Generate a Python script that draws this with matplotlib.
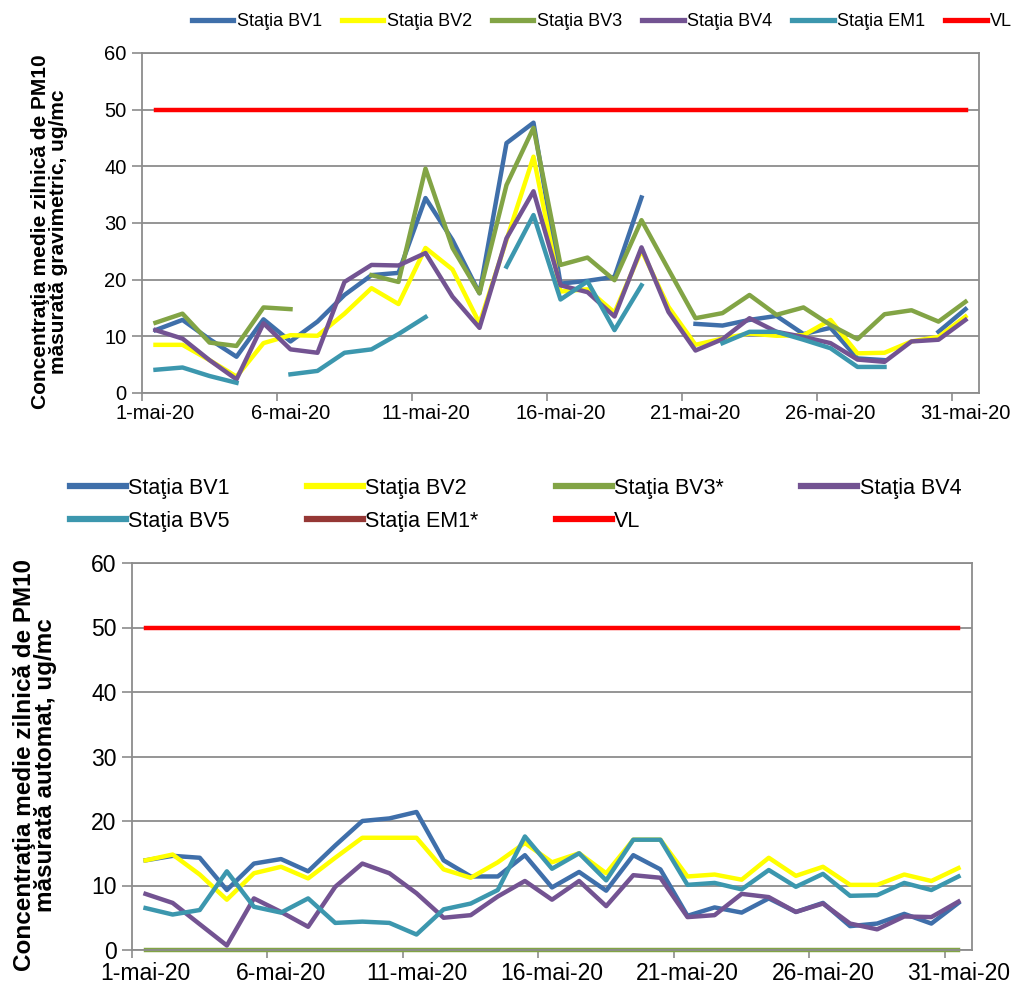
import numpy as np
import matplotlib
matplotlib.use("Agg")
import matplotlib.pyplot as plt

plt.rcParams["font.family"] = ["Liberation Sans", "DejaVu Sans"]

nan = np.nan
days = np.arange(1, 32)
tick_days = [1, 6, 11, 16, 21, 26, 31]
tick_labels = ["1-mai-20", "6-mai-20", "11-mai-20", "16-mai-20", "21-mai-20", "26-mai-20", "31-mai-20"]
VL = 50

# gravimetric (top chart)
grav_bv1 = [11.1, 12.9, 9.5, 6.4, 13.0, 9.1, 12.6, 17.3, 20.8, 21.2, 34.4, 27.0, 17.6, 44.1, 47.7, 19.3,
            19.8, 20.5, 34.5, nan, 12.2, 11.9, 12.9, 13.6, 10.4, 11.5, 6.1, 5.8, nan, 10.8, 14.8]
grav_bv2 = [8.5, 8.5, 5.8, 2.9, 8.8, 10.2, 10.1, 14.0, 18.5, 15.7, 25.6, 21.8, 12.3, 27.0, 41.7, 17.9,
            18.3, 14.2, 25.2, 15.2, 8.5, 9.6, 10.5, 10.1, 10.2, 12.9, 7.0, 7.1, 9.1, 9.9, 13.5]
grav_bv3 = [12.4, 14.0, 8.9, 8.3, 15.1, 14.8, nan, nan, 20.8, 19.6, 39.6, 25.6, 17.6, 36.7, 46.8, 22.6,
            23.9, 19.9, 30.5, 21.8, 13.2, 14.1, 17.3, 13.8, 15.1, 12.0, 9.5, 13.9, 14.6, 12.6, 16.1]
grav_bv4 = [11.1, 9.6, 5.8, 2.4, 12.3, 7.7, 7.1, 19.6, 22.6, 22.5, 24.7, 17.0, 11.5, 27.3, 35.6, 19.0,
            17.8, 13.5, 25.7, 14.3, 7.5, 9.5, 13.2, 10.8, 9.9, 8.8, 5.9, 5.5, 9.1, 9.4, 12.9]
grav_em1 = [4.1, 4.5, 3.0, 1.8, nan, 3.3, 3.9, 7.1, 7.7, 10.4, 13.4, nan, nan, 22.3, 31.4, 16.5,
            19.7, 11.1, 19.0, nan, nan, 8.8, 10.8, 10.8, 9.4, 7.9, 4.6, 4.6, nan, nan, nan]

# automatic (bottom chart)
auto_bv1 = [13.9, 14.6, 14.3, 9.3, 13.4, 14.1, 12.2, 16.2, 20.0, 20.4, 21.4, 13.9, 11.4, 11.4, 14.7, 9.7,
            12.1, 9.2, 14.7, 12.5, 5.3, 6.6, 5.8, 8.0, 5.9, 7.3, 3.7, 4.1, 5.6, 4.1, 7.3]
auto_bv2 = [13.9, 14.8, 11.7, 7.8, 11.9, 12.9, 11.1, 14.3, 17.4, 17.4, 17.4, 12.5, 11.2, 13.6, 16.6, 13.6,
            15.0, 11.9, 17.1, 17.1, 11.4, 11.7, 10.9, 14.3, 11.5, 12.9, 10.1, 10.1, 11.7, 10.7, 12.7]
auto_bv3 = [0, 0, 0, 0, 0, 0, 0, 0, 0, 0, 0, 0, 0, 0, 0, 0,
            0, 0, 0, 0, 0, 0, 0, 0, 0, 0, 0, 0, 0, 0, 0]
auto_bv4 = [8.7, 7.3, 4.0, 0.7, 8.0, 5.9, 3.6, 9.8, 13.4, 11.9, 8.8, 5.0, 5.4, 8.3, 10.7, 7.8,
            10.7, 6.8, 11.6, 11.2, 5.1, 5.4, 8.7, 8.2, 5.9, 7.2, 4.1, 3.2, 5.2, 5.1, 7.5]
auto_bv5 = [6.5, 5.5, 6.2, 12.2, 6.7, 5.8, 8.0, 4.2, 4.4, 4.2, 2.4, 6.3, 7.2, 9.3, 17.6, 12.6,
            15.0, 10.8, 17.1, 17.1, 10.1, 10.4, 9.4, 12.4, 9.8, 11.8, 8.4, 8.5, 10.4, 9.3, 11.4]
auto_em1 = []  # no data plotted

c_bv1 = "#3F6FAA"
c_bv2 = "#FFFF00"
c_bv3 = "#82A445"
c_bv4 = "#735392"
c_bv5 = "#3C97AE"
c_em1 = "#953735"
c_vl = "#FF0000"
grid_c = "#8C8C8C"

W, H = 1021, 990
fig = plt.figure(figsize=(W / 100, H / 100), dpi=100)


def px_axes(left, top, right, bottom):
    return fig.add_axes([left / W, 1 - bottom / H, (right - left) / W, (bottom - top) / H])


def style_axes(ax, fs_tick, xpad):
    x = days - 0.5
    ax.set_xlim(0, 31)
    ax.set_ylim(0, 60)
    ax.set_yticks(range(0, 61, 10))
    ax.set_xticks([d - 1 for d in tick_days])
    ax.set_xticklabels([])
    ax.set_xticks([d - 0.5 for d in tick_days], minor=True)
    ax.set_xticklabels(tick_labels, minor=True)
    ax.tick_params(axis="x", which="minor", length=0, labelsize=fs_tick, pad=xpad)
    ax.tick_params(axis="x", which="major", length=6, color=grid_c, width=1.2)
    ax.tick_params(axis="y", length=7, color=grid_c, width=1.2, labelsize=fs_tick, pad=4)
    ax.grid(axis="y", color=grid_c, lw=1.3)
    ax.set_axisbelow(True)
    for s in ax.spines.values():
        s.set_color(grid_c)
        s.set_linewidth(1.3)
    return x


lw = 3.2

# ---- top chart
ax1 = px_axes(142, 53, 979, 393)
x = style_axes(ax1, 14.5, 8)
ax1.plot(x, grav_bv1, color=c_bv1, lw=lw, label="Staţia BV1")
ax1.plot(x, grav_bv2, color=c_bv2, lw=lw, label="Staţia BV2")
ax1.plot(x, grav_bv3, color=c_bv3, lw=lw, label="Staţia BV3")
ax1.plot(x, grav_bv4, color=c_bv4, lw=lw, label="Staţia BV4")
ax1.plot(x, grav_em1, color=c_bv5, lw=lw, label="Staţia EM1")
ax1.plot(x, [VL] * len(x), color=c_vl, lw=lw, label="VL")
ax1.set_ylabel("Concentraţia medie zilnică de PM10\nmăsurată gravimetric, ug/mc",
               fontsize=15, fontweight="bold", linespacing=0.95)
ax1.yaxis.set_label_coords((68 - 142) / 837, 0.474)
leg1 = fig.legend(*ax1.get_legend_handles_labels(), loc="center", ncol=6, frameon=False,
                  bbox_to_anchor=(602 / W, 1 - 22 / H), fontsize=13, handlelength=2.3,
                  handletextpad=0.2, columnspacing=1.1, borderpad=0, borderaxespad=0)
for h in leg1.legend_handles:
    h.set_linewidth(3.8)

# ---- bottom chart
ax2 = px_axes(132, 563, 972, 950)
x = style_axes(ax2, 16.5, 9)
ax2.plot(x, auto_bv1, color=c_bv1, lw=lw, label="Staţia BV1", clip_on=False)
ax2.plot(x, auto_bv2, color=c_bv2, lw=lw, label="Staţia BV2", clip_on=False)
ax2.plot(x, auto_bv3, color=c_bv3, lw=lw, label="Staţia BV3*", clip_on=False)
ax2.plot(x, auto_bv4, color=c_bv4, lw=lw, label="Staţia BV4", clip_on=False)
ax2.plot(x, auto_bv5, color=c_bv5, lw=lw, label="Staţia BV5", clip_on=False)
ax2.plot(auto_em1, auto_em1, color=c_em1, lw=lw, label="Staţia EM1*")
ax2.plot(x, [VL] * len(x), color=c_vl, lw=lw, label="VL")
ax2.set_ylabel("Concentraţia medie zilnică de PM10\nmăsurată automat, ug/mc",
               fontsize=17.5, fontweight="bold", linespacing=0.9)
ax2.yaxis.set_label_coords((57 - 132) / 840, 0.478)

# legend fills row by row in the reference: reorder for matplotlib's column filling
handles, labels = ax2.get_legend_handles_labels()
order = [0, 4, 1, 5, 2, 6, 3]
leg2 = fig.legend([handles[i] for i in order], [labels[i] for i in order], loc="upper left", ncol=4,
                  frameon=False, bbox_to_anchor=(70 / W, 1 - 478 / H), fontsize=15.5, handlelength=2.6,
                  handletextpad=0.1, columnspacing=3.6, labelspacing=0.55, borderpad=0, borderaxespad=0)
for h in leg2.legend_handles:
    h.set_linewidth(4.5)

fig.savefig("out.png", dpi=100)
